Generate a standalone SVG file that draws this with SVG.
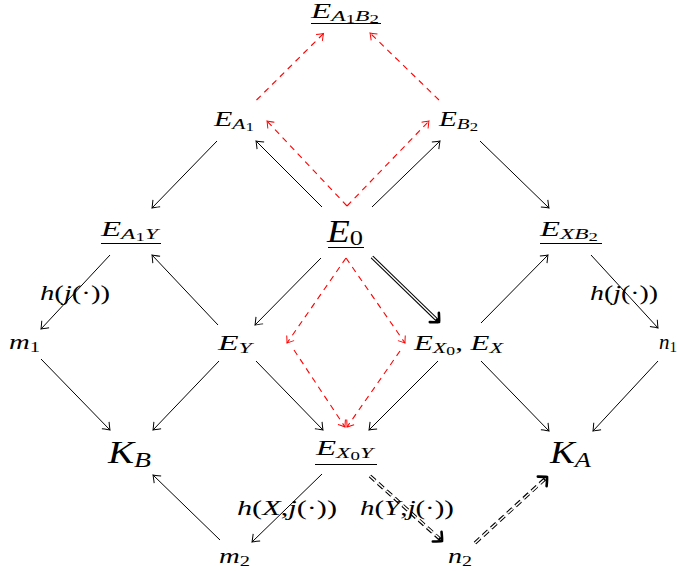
<svg xmlns="http://www.w3.org/2000/svg" width="678" height="571" viewBox="0 0 678 571">
<style>
text{font-family:'Liberation Serif',serif;font-style:italic;fill:#000000}
.r{font-style:normal}
.n{font-size:21px}
.s{font-size:15px}
.ss{font-size:12px}
.b{font-size:31px}
.bs{font-size:22px}
.lab{font-size:21px}
</style>
<defs>
<marker id="to" markerUnits="userSpaceOnUse" viewBox="-9 -7 11 14" refX="0" refY="0" markerWidth="11" markerHeight="14" orient="auto" overflow="visible">
<path d="M-6.5,-5 Q-1.5,-1 0,0 Q-1.5,1 -6.5,5" fill="none" stroke="#000000" stroke-width="1"/>
</marker>
<marker id="tor" markerUnits="userSpaceOnUse" viewBox="-9 -7 11 14" refX="0" refY="0" markerWidth="11" markerHeight="14" orient="auto" overflow="visible">
<path d="M-6,-4.5 Q-1.5,-1 0,0 Q-1.5,1 -6,4.5" fill="none" stroke="#ff0000" stroke-width="1"/>
</marker>
<marker id="imp" markerUnits="userSpaceOnUse" viewBox="-10 -10 12 20" refX="0" refY="0" markerWidth="12" markerHeight="20" orient="auto" overflow="visible">
<path d="M-6.5,-6.5 Q-1,-1.5 0,0 Q-1,1.5 -6.5,6.5" fill="none" stroke="#000000" stroke-width="2.6" stroke-linecap="round"/>
</marker>
</defs>
<rect width="678" height="571" fill="#ffffff"/>

<g id="connectors">
<g stroke="#000000" stroke-width="1" fill="none" marker-end="url(#to)">
<line x1="217" y1="141" x2="152" y2="208"/>
<line x1="322" y1="207" x2="256" y2="141"/>
<line x1="372" y1="207" x2="440" y2="141"/>
<line x1="480" y1="141" x2="549" y2="208"/>
<line x1="218" y1="325" x2="152" y2="255"/>
<line x1="321" y1="258" x2="255" y2="325"/>
<line x1="481" y1="323" x2="548" y2="255"/>
<line x1="110" y1="255" x2="41" y2="329"/>
<line x1="591" y1="255" x2="658" y2="328"/>
<line x1="41" y1="359" x2="110" y2="430"/>
<line x1="219" y1="361" x2="153" y2="430"/>
<line x1="256" y1="361" x2="323" y2="430"/>
<line x1="438" y1="361" x2="369" y2="430"/>
<line x1="481" y1="361" x2="549" y2="431"/>
<line x1="658" y1="361" x2="593" y2="431"/>
<line x1="220" y1="540" x2="153" y2="475"/>
<line x1="322" y1="474" x2="252" y2="542"/>
</g>
<g fill="none">
<line x1="372" y1="257" x2="439" y2="322" stroke="#000000" stroke-width="3.6" marker-end="url(#imp)"/>
<line x1="372" y1="257" x2="436" y2="319" stroke="#ffffff" stroke-width="1.5"/>
<line x1="370" y1="476" x2="442" y2="541" stroke="#000000" stroke-width="3.6" stroke-dasharray="7 4" marker-end="url(#imp)"/>
<line x1="370" y1="476" x2="439" y2="538" stroke="#ffffff" stroke-width="1.5" stroke-dasharray="7 4"/>
<line x1="475" y1="543" x2="547" y2="477" stroke="#000000" stroke-width="3.6" stroke-dasharray="7 4" marker-end="url(#imp)"/>
<line x1="475" y1="543" x2="544" y2="480" stroke="#ffffff" stroke-width="1.5" stroke-dasharray="7 4"/>
</g>
<g fill="none" stroke="#ff0000" stroke-width="1.1" stroke-dasharray="6 5" marker-end="url(#tor)">
<path d="M347,206 L267,121"/>
<path d="M347,206 L429,121"/>
<path d="M256.5,100 L323.5,33.5"/>
<path d="M439,100 L370,33"/>
<path d="M346,258 L287,343"/>
<path d="M346,258 L405,343"/>
<path d="M294,350 L345,427"/>
<path d="M400,351 L347,427"/>
</g>
</g>

<g id="node-EA1B2">
<text x="311" y="18" class="n" textLength="68" lengthAdjust="spacingAndGlyphs">E<tspan class="s" dy="3">A</tspan><tspan class="ss r" dy="2">1</tspan><tspan class="s" dy="-2">B</tspan><tspan class="ss r" dy="2">2</tspan></text>
<line x1="311" y1="23.5" x2="381" y2="23.5" stroke="#000000" stroke-width="1"/>
</g>
<g id="node-EA1">
<text x="214" y="126" class="n" textLength="40" lengthAdjust="spacingAndGlyphs">E<tspan class="s" dy="3">A</tspan><tspan class="ss r" dy="2">1</tspan></text>
</g>
<g id="node-EB2">
<text x="439" y="126" class="n" textLength="39" lengthAdjust="spacingAndGlyphs">E<tspan class="s" dy="3">B</tspan><tspan class="ss r" dy="2">2</tspan></text>
</g>
<g id="node-EA1Y">
<text x="101" y="236" class="n" textLength="57" lengthAdjust="spacingAndGlyphs">E<tspan class="s" dy="3">A</tspan><tspan class="ss r" dy="2">1</tspan><tspan class="s" dy="-2">Y</tspan></text>
<line x1="101" y1="243.5" x2="161" y2="243.5" stroke="#000000" stroke-width="1"/>
</g>
<g id="node-E0">
<text x="327" y="242" class="b" textLength="36" lengthAdjust="spacingAndGlyphs">E<tspan class="bs r" dy="3">0</tspan></text>
<line x1="328" y1="247.5" x2="364" y2="247.5" stroke="#000000" stroke-width="1"/>
</g>
<g id="node-EXB2">
<text x="540" y="236" class="n" textLength="58" lengthAdjust="spacingAndGlyphs">E<tspan class="s" dy="3">XB</tspan><tspan class="ss r" dy="2">2</tspan></text>
<line x1="540" y1="243.5" x2="602" y2="243.5" stroke="#000000" stroke-width="1"/>
</g>
<g id="node-m1">
<text x="9" y="349" class="n" textLength="31" lengthAdjust="spacingAndGlyphs">m<tspan class="s r" dy="3">1</tspan></text>
</g>
<g id="node-EY">
<text x="218" y="350" class="n" textLength="34" lengthAdjust="spacingAndGlyphs">E<tspan class="s" dy="3">Y</tspan></text>
</g>
<g id="node-EX0EX">
<text x="414" y="350" class="n" textLength="89" lengthAdjust="spacingAndGlyphs">E<tspan class="s" dy="3">X</tspan><tspan class="ss r" dy="2">0</tspan><tspan class="r" dy="-5">, </tspan>E<tspan class="s" dy="3">X</tspan></text>
</g>
<g id="node-n1">
<text x="659" y="349" class="n">n<tspan class="s r" dy="3">1</tspan></text>
</g>
<g id="node-KB">
<text x="108" y="463" class="b" textLength="43" lengthAdjust="spacingAndGlyphs">K<tspan class="bs" dy="4">B</tspan></text>
</g>
<g id="node-EX0Y">
<text x="316" y="455" class="n" textLength="57" lengthAdjust="spacingAndGlyphs">E<tspan class="s" dy="3">X</tspan><tspan class="ss r" dy="2">0</tspan><tspan class="s" dy="-2">Y</tspan></text>
<line x1="315" y1="464.5" x2="377" y2="464.5" stroke="#000000" stroke-width="1"/>
</g>
<g id="node-KA">
<text x="550" y="463" class="b" textLength="41" lengthAdjust="spacingAndGlyphs">K<tspan class="bs" dy="4">A</tspan></text>
</g>
<g id="node-m2">
<text x="219" y="563" class="n" textLength="31" lengthAdjust="spacingAndGlyphs">m<tspan class="s r" dy="3">2</tspan></text>
</g>
<g id="node-n2">
<text x="448" y="563" class="n" textLength="24" lengthAdjust="spacingAndGlyphs">n<tspan class="s r" dy="3">2</tspan></text>
</g>
<g id="labels">
<text class="lab" x="40" y="300" textLength="70" lengthAdjust="spacingAndGlyphs">h<tspan class="r">(</tspan>j<tspan class="r">(·))</tspan></text>
<text class="lab" x="590" y="300" textLength="68" lengthAdjust="spacingAndGlyphs">h<tspan class="r">(</tspan>j<tspan class="r">(·))</tspan></text>
<text class="lab" x="237" y="515" textLength="100" lengthAdjust="spacingAndGlyphs">h<tspan class="r">(</tspan>X<tspan class="r">,</tspan>j<tspan class="r">(·))</tspan></text>
<text class="lab" x="360" y="515" textLength="94" lengthAdjust="spacingAndGlyphs">h<tspan class="r">(</tspan>Y<tspan class="r">,</tspan>j<tspan class="r">(·))</tspan></text>
</g>
</svg>
